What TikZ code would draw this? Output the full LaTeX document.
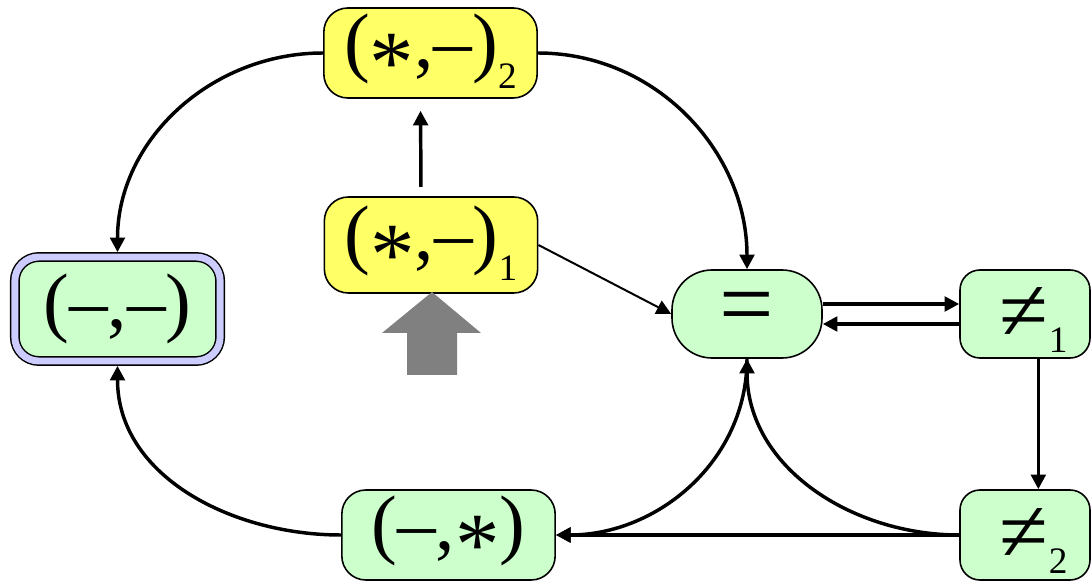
\documentclass[tikz,border=0pt]{standalone}
\usepackage{fontspec}
\setmainfont{Liberation Serif}
\usetikzlibrary{arrows.meta}

\definecolor{lemon}{HTML}{FFFF66}
\definecolor{mint}{HTML}{CCFFCC}
\definecolor{lavender}{HTML}{CCCCFF}

\newcommand{\lowsub}[2][16pt]{\raisebox{-#1}[0pt][0pt]{\fontsize{28}{28}\selectfont #2}}
\newcommand{\st}{\raisebox{-0.33em}{\scalebox{1.15}{*}}}
\newcommand{\dash}{–}

\begin{document}
\begin{tikzpicture}[x=0.75pt,y=-0.75pt,
    >={Triangle[length=11pt,width=11pt]},
    cell/.style={draw,line width=1.2pt,rounded corners=18pt,inner sep=0pt,
      font=\fontsize{58}{60}\selectfont,minimum width=160pt,minimum height=67.5pt},
    flow/.style={->,line width=2.6pt},
    weak/.style={->,line width=1.5pt}]
  \useasboundingbox (0,0) rectangle (1092,584);

  \node[cell,fill=lemon] (star2) at (430.5,53) {(\st,\dash)\lowsub{2}};
  \node[cell,fill=lemon,minimum height=72pt] (star1) at (431,245) {(\st,\dash)\lowsub{1}};
  \node[cell,fill=mint,double=lavender,double distance=5.2pt,line width=1.1pt,
        outer sep=3.6pt,minimum width=154pt,minimum height=78pt] (dd) at (117.5,309) {(\dash,\dash)};
  \node[cell,fill=mint,rounded corners=30pt,minimum width=112.5pt,minimum height=66pt] (eq) at (747,314) {\scalebox{1.25}{=}};
  \node[cell,fill=mint,rounded corners=15pt,minimum width=97.5pt,minimum height=66pt] (ne1) at (1025,314) {\hspace*{13pt}\scalebox{1.15}{≠}\lowsub[9pt]{1}};
  \node[cell,fill=mint,rounded corners=15pt,minimum width=97.5pt] (ne2) at (1025,535) {\hspace*{13pt}\scalebox{1.15}{≠}\lowsub[9pt]{2}};
  \node[cell,fill=mint] (ms) at (448.5,535) {(\dash,\st)};

  % the gray pointer under the start state
  \fill[gray] (407,375) -- (407,333) -- (382,333) -- (432,292) -- (481,333)
    -- (457,333) -- (457,375) -- cycle;

  \draw[flow,shorten <=7pt,shorten >=9pt] ([xshift=-7.5pt]star1.north) -- ([xshift=-7.5pt]star2.south);
  \draw[flow] (star2.west) to[out=180,in=90] (dd.north);
  \draw[flow] (star2.east) to[out=0,in=90] (eq.north);
  \draw[weak] (star1.east) -- (eq.west);

  \draw[flow] ([yshift=7.5pt]eq.east) -- ([yshift=7.5pt]ne1.west);
  \draw[flow] ([yshift=-7.5pt]ne1.west) -- ([yshift=-7.5pt]eq.east);
  \draw[flow] ([xshift=10pt]ne1.south) -- ([xshift=10pt]ne2.north);

  \draw[flow] (ne2.west) -- (ms.east);
  \draw[flow] (ne2.west) to[out=180,in=-90] (eq.south);
  \draw[flow] (eq.south) to[out=-90,in=0] (ms.east);
  \draw[flow] (ms.west) to[out=180,in=-90] (dd.south);
\end{tikzpicture}
\end{document}
